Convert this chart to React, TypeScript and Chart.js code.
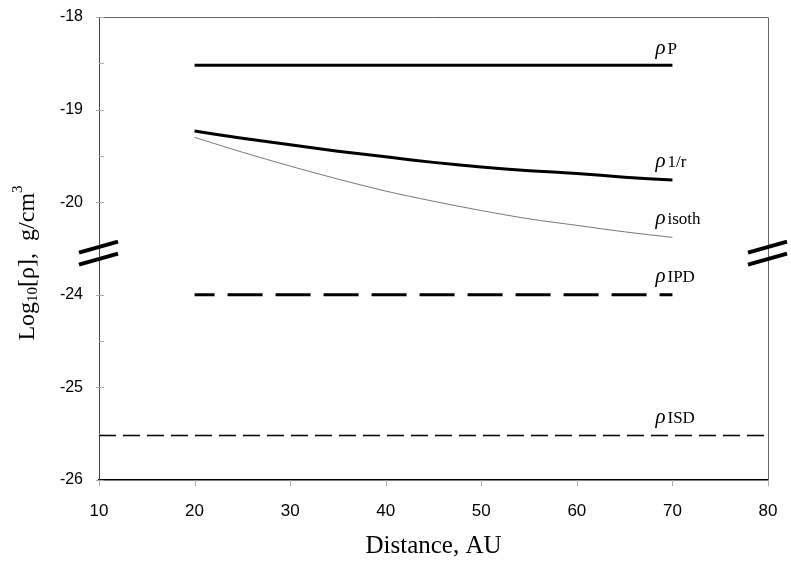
import React, { useEffect, useRef } from "react";
import { Chart, registerables } from "chart.js";

Chart.register(...registerables);

// ---- data ----
const distances = [20, 25, 30, 35, 40, 45, 50, 55, 60, 65, 70];
const rhoP = [-18.52, -18.52, -18.52, -18.52, -18.52, -18.52, -18.52, -18.52, -18.52, -18.52, -18.52];
const rho1r = [-19.23, -19.31, -19.38, -19.45, -19.51, -19.57, -19.62, -19.66, -19.69, -19.73, -19.76];
const rhoIsoth = [-19.3, -19.46, -19.61, -19.75, -19.88, -19.99, -20.09, -20.18, -20.25, -20.32, -20.38];
const rhoIPD = [-24, -24, -24, -24, -24, -24, -24, -24, -24, -24, -24];
const isdDistances = [10, 80];
const rhoISD = [-25.52, -25.52];
const seriesNames = ["P", "1/r", "isoth", "IPD", "ISD"];
const xTickValues = [10, 20, 30, 40, 50, 60, 70, 80];
const yTickLabels = [-18, -19, -20, -24, -25, -26];
const labelAnchorX = 70;

// axis break: real values below the gap are shifted up by this amount
const BREAK_SHIFT = 3;
const toDisplay = (v: number) => (v > -22 ? v : v + BREAK_SHIFT);
const fromDisplay = (v: number) => (v >= -20.5 ? v : v - BREAK_SHIFT);

const pts = (xs: number[], ys: number[]) => xs.map((x, i) => ({ x, y: toDisplay(ys[i]) }));

const SERIF = "'Liberation Serif', 'Times New Roman', serif";
const SANS = "'Liberation Sans', Arial, sans-serif";

export default function App() {
  const ref = useRef<HTMLCanvasElement | null>(null);

  useEffect(() => {
    document.body.style.margin = "0";
    const canvas = ref.current;
    if (!canvas) return;

    const seriesYs = [rhoP, rho1r, rhoIsoth, rhoIPD, rhoISD];
    const seriesXs = [distances, distances, distances, distances, isdDistances];
    const labelDy = [-11, -13, -13, -13, -13];

    const decor = {
      id: "decor",
      afterDraw(chart: any) {
        const ctx = chart.ctx as CanvasRenderingContext2D;
        const xs = chart.scales.x;
        const ys = chart.scales.y;
        const { left, right, top, bottom } = chart.chartArea;
        ctx.save();

        // frame top & right
        ctx.strokeStyle = "#666";
        ctx.lineWidth = 1;
        ctx.beginPath();
        ctx.moveTo(left, top + 0.5);
        ctx.lineTo(right + 0.5, top + 0.5);
        ctx.lineTo(right + 0.5, bottom);
        ctx.stroke();

        // y ticks
        ctx.strokeStyle = "#aaa";
        for (let v = -23; v <= -18; v++) {
          const y = Math.round(ys.getPixelForValue(v)) + 0.5;
          ctx.beginPath();
          ctx.moveTo(left - 3, y);
          ctx.lineTo(left + 5, y);
          ctx.stroke();
        }
        [-18.5, -19.5, -21.5, -22.5].forEach((v) => {
          const y = Math.round(ys.getPixelForValue(v)) + 0.5;
          ctx.beginPath();
          ctx.moveTo(left, y);
          ctx.lineTo(left + 5, y);
          ctx.stroke();
        });
        // x ticks
        xTickValues.forEach((v) => {
          const x = Math.round(xs.getPixelForValue(v)) + 0.5;
          ctx.beginPath();
          ctx.moveTo(x, bottom);
          ctx.lineTo(x, bottom + 6);
          ctx.stroke();
        });

        // axis break marks
        const cy = ys.getPixelForValue(-20.55);
        ctx.strokeStyle = "#000";
        ctx.lineWidth = 4;
        [left, right].forEach((ax) => {
          [-6, 6].forEach((off) => {
            ctx.beginPath();
            ctx.moveTo(ax - 20, cy + off + 5.5);
            ctx.lineTo(ax + 19, cy + off - 5.5);
            ctx.stroke();
          });
        });

        // series labels
        ctx.fillStyle = "#000";
        ctx.textBaseline = "alphabetic";
        ctx.textAlign = "left";
        seriesNames.forEach((name, i) => {
          const xsD = seriesXs[i];
          const ysD = seriesYs[i];
          const idx = xsD.indexOf(labelAnchorX);
          const yv = idx >= 0 ? ysD[idx] : ysD[ysD.length - 1];
          const px = xs.getPixelForValue(labelAnchorX) - 17;
          const py = ys.getPixelForValue(toDisplay(yv)) + labelDy[i];
          ctx.font = `italic 21px ${SERIF}`;
          ctx.fillText("ρ", px, py);
          const w = ctx.measureText("ρ").width;
          ctx.font = `17px ${SERIF}`;
          ctx.fillText(name, px + w + 2, py);
        });

        // x title
        ctx.font = `25px ${SERIF}`;
        ctx.textAlign = "center";
        ctx.fillText("Distance, AU", (left + right) / 2, 553);

        // y title (rotated, with sub/superscript)
        const parts = [
          { t: "Log", s: 24, dy: 0 },
          { t: "10", s: 15, dy: 3 },
          { t: "[ρ],  g/cm", s: 24, dy: 0 },
          { t: "3", s: 15, dy: -12 },
        ];
        ctx.textAlign = "left";
        let total = 0;
        const widths = parts.map((p) => {
          ctx.font = `${p.s}px ${SERIF}`;
          const w = ctx.measureText(p.t).width;
          total += w;
          return w;
        });
        ctx.translate(34, 263);
        ctx.rotate(-Math.PI / 2);
        let cx = -total / 2;
        parts.forEach((p, i) => {
          ctx.font = `${p.s}px ${SERIF}`;
          ctx.fillText(p.t, cx, p.dy);
          cx += widths[i];
        });
        ctx.restore();
      },
    };

    const hiddenGrid = {
      display: true,
      drawOnChartArea: false,
      drawTicks: true,
      color: "rgba(0,0,0,0)",
    };

    const chart = new Chart(canvas, {
      type: "line",
      data: {
        datasets: [
          { data: pts(distances, rhoP), borderColor: "#000", borderWidth: 3 },
          { data: pts(distances, rho1r), borderColor: "#000", borderWidth: 3, tension: 0.3 },
          { data: pts(distances, rhoIsoth), borderColor: "#777", borderWidth: 1, tension: 0.3 },
          { data: pts(distances, rhoIPD), borderColor: "#000", borderWidth: 3, borderDash: [35, 13], borderDashOffset: 15 },
          { data: pts(isdDistances, rhoISD), borderColor: "#000", borderWidth: 1.6, borderDash: [17, 7] },
        ].map((d) => ({ ...d, pointRadius: 0, fill: false, borderCapStyle: "butt" as const })),
      },
      options: {
        animation: false,
        responsive: true,
        maintainAspectRatio: false,
        layout: { padding: { top: 17, right: 23, left: 0, bottom: 0 } },
        plugins: { legend: { display: false }, tooltip: { enabled: false } },
        scales: {
          x: {
            type: "linear",
            min: 10,
            max: 80,
            afterFit: (s: any) => {
              s.height = 86;
            },
            afterBuildTicks: (s: any) => {
              s.ticks = xTickValues.map((v) => ({ value: v }));
            },
            grid: { ...hiddenGrid, tickLength: 11 },
            border: { display: true, color: "#000", width: 1.5 },
            ticks: { padding: 10, color: "#000", font: { family: SANS, size: 17 } },
          },
          y: {
            type: "linear",
            min: -23,
            max: -18,
            afterFit: (s: any) => {
              s.width = 99;
            },
            grid: { ...hiddenGrid, tickLength: 10 },
            border: { display: true, color: "#444", width: 1 },
            ticks: {
              stepSize: 1,
              padding: 6,
              color: "#000",
              font: { family: SANS, size: 16 },
              callback: (v: any) => {
                const r = fromDisplay(Number(v));
                return yTickLabels.includes(r) ? String(r) : "";
              },
            },
          },
        },
      },
      plugins: [decor],
    });

    return () => chart.destroy();
  }, []);

  return (
    <div style={{ position: "absolute", left: 0, top: 0, width: 791, height: 566 }}>
      <canvas ref={ref} />
    </div>
  );
}
